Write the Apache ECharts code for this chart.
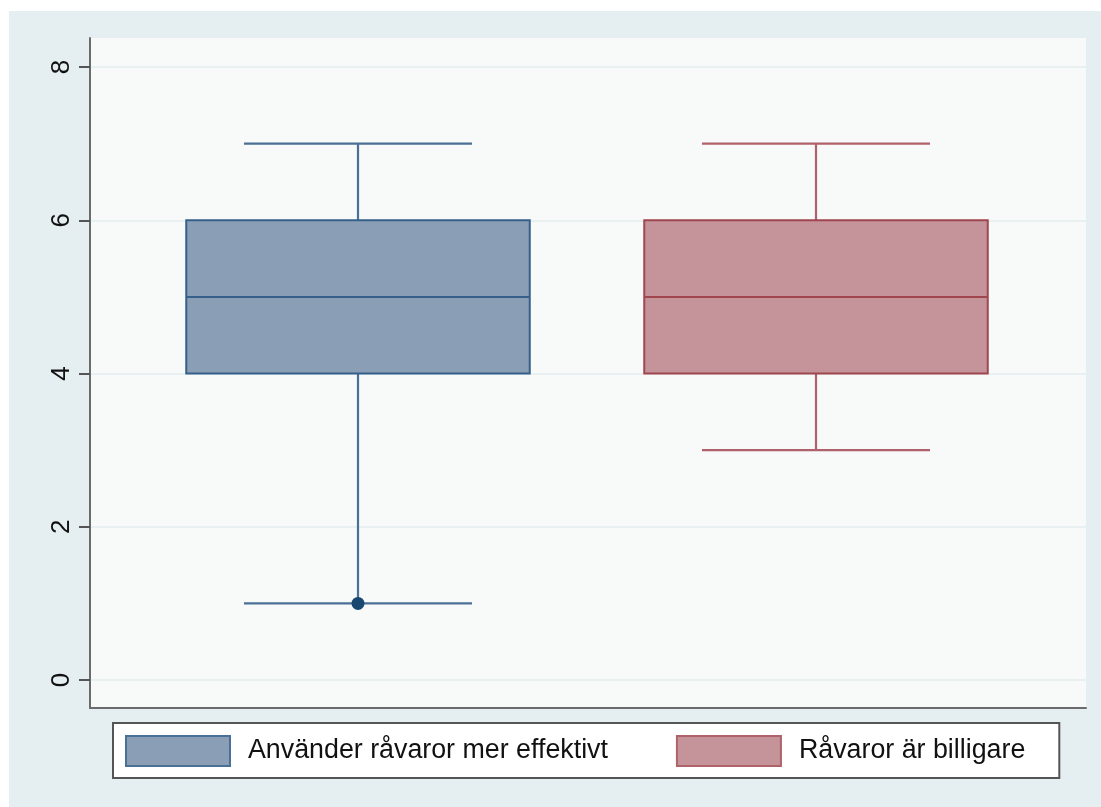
<!DOCTYPE html>
<html>
<head>
<meta charset="utf-8">
<script src="https://cdn.jsdelivr.net/npm/echarts@6/dist/echarts.min.js"></script>
<style>
  html, body { margin: 0; padding: 0; background: #fff; }
  #chart { position: absolute; left: 9px; top: 11px; width: 1092px; height: 796px; }
</style>
</head>
<body>
<div id="chart"></div>
<script>
// groups
var categories = ['Använder råvaror mer effektivt', 'Råvaror är billigare'];
// box statistics per group
var lowerWhisker = [1, 3];
var q1 = [4, 4];
var median = [5, 5];
var q3 = [6, 6];
var upperWhisker = [7, 7];
// outside values: [group index, value]
var outliers = [[0, 1]];
var yTicks = [0, 2, 4, 6, 8];

var palette = [
  { fill: '#8a9fb5', border: '#36608a', whisker: '#4a7096', legendBorder: '#4a7096' },
  { fill: '#c5939a', border: '#a0464f', whisker: '#b0626a', legendBorder: '#b0626a' }
];

var fontFamily = '"Liberation Sans", Arial, Helvetica, sans-serif';

function makeRender(col) {
  return function (params, api) {
    var x = api.value(0);
    var pLow = api.coord([x, api.value(1)]);
    var pQ1 = api.coord([x, api.value(2)]);
    var pMed = api.coord([x, api.value(3)]);
    var pQ3 = api.coord([x, api.value(4)]);
    var pHigh = api.coord([x, api.value(5)]);
    var band = api.size([1, 0])[0];
    var halfBox = band * 0.375;
    var halfCap = band * 0.249;
    var cx = pMed[0];
    var wStyle = { stroke: col.whisker, lineWidth: 2.2 };
    return {
      type: 'group',
      children: [
        { type: 'line', shape: { x1: cx, y1: pQ3[1], x2: cx, y2: pHigh[1] }, style: wStyle },
        { type: 'line', shape: { x1: cx, y1: pQ1[1], x2: cx, y2: pLow[1] }, style: wStyle },
        { type: 'line', shape: { x1: cx - halfCap, y1: pHigh[1], x2: cx + halfCap, y2: pHigh[1] }, style: wStyle },
        { type: 'line', shape: { x1: cx - halfCap, y1: pLow[1], x2: cx + halfCap, y2: pLow[1] }, style: wStyle },
        { type: 'rect', shape: { x: cx - halfBox, y: pQ3[1], width: halfBox * 2, height: pQ1[1] - pQ3[1] },
          style: { fill: col.fill, stroke: col.border, lineWidth: 2 } },
        { type: 'line', shape: { x1: cx - halfBox, y1: pMed[1], x2: cx + halfBox, y2: pMed[1] },
          style: { stroke: col.border, lineWidth: 2 } }
      ]
    };
  };
}

var boxSeries = categories.map(function (name, i) {
  return {
    name: name,
    type: 'custom',
    xAxisIndex: 2,
    yAxisIndex: 2,
    renderItem: makeRender(palette[i]),
    encode: { x: 0, y: [1, 2, 3, 4, 5] },
    data: [[i, lowerWhisker[i], q1[i], median[i], q3[i], upperWhisker[i]]],
    z: 3
  };
});

var myChart = echarts.init(document.getElementById('chart'));

var option = {
  backgroundColor: '#e5eef1',
  animation: false,
  textStyle: { fontFamily: fontFamily },
  grid: [
    // frame / plot region
    { left: 81, top: 27, width: 996, height: 670, show: true, backgroundColor: '#f8f9f9', borderWidth: 0, z: 0 },
    // y scale
    { left: 81, top: 56, width: 996, height: 613, z: 1 },
    // boxes
    { left: 120, top: 56, width: 916, height: 613, z: 2 }
  ],
  xAxis: [
    { gridIndex: 0, type: 'value', min: 0, max: 1,
      axisLine: { show: true, onZero: false, lineStyle: { color: '#6b6b6b', width: 2 } },
      axisTick: { show: false }, axisLabel: { show: false }, splitLine: { show: false } },
    { gridIndex: 1, type: 'value', min: 0, max: 1, show: false },
    { gridIndex: 2, type: 'category', data: categories, show: false }
  ],
  yAxis: [
    { gridIndex: 0, type: 'value', min: 0, max: 1,
      axisLine: { show: true, onZero: false, lineStyle: { color: '#6b6b6b', width: 2 } },
      axisTick: { show: false }, axisLabel: { show: false }, splitLine: { show: false } },
    { gridIndex: 1, type: 'value', min: yTicks[0], max: yTicks[yTicks.length - 1], interval: 2,
      axisLine: { show: false },
      axisTick: { show: true, length: 11, lineStyle: { color: '#555', width: 2 } },
      axisLabel: { rotate: 90, fontSize: 26, color: '#111', margin: 15, fontFamily: fontFamily },
      splitLine: { show: true, lineStyle: { color: '#e3ecee', width: 1.5 } } },
    { gridIndex: 2, type: 'value', min: yTicks[0], max: yTicks[yTicks.length - 1], show: false }
  ],
  legend: {
    left: 104,
    top: 712,
    orient: 'horizontal',
    backgroundColor: '#fff',
    borderColor: '#555',
    borderWidth: 2,
    borderRadius: 0,
    padding: [12, 34, 11, 12],
    itemWidth: 104,
    itemHeight: 30,
    itemGap: 68,
    icon: 'rect',
    selectedMode: false,
    textStyle: { fontSize: 26.8, color: '#111', fontFamily: fontFamily, padding: [0, 0, 0, 13] },
    data: categories.map(function (name, i) {
      return { name: name, icon: 'rect',
        itemStyle: { color: palette[i].fill, borderColor: palette[i].legendBorder, borderWidth: 2 } };
    })
  },
  series: boxSeries.concat([{
    name: 'outside',
    type: 'scatter',
    xAxisIndex: 2,
    yAxisIndex: 2,
    symbolSize: 13,
    itemStyle: { color: '#1a476f', opacity: 1 },
    data: outliers,
    z: 4
  }])
};

myChart.setOption(option);
</script>
</body>
</html>
